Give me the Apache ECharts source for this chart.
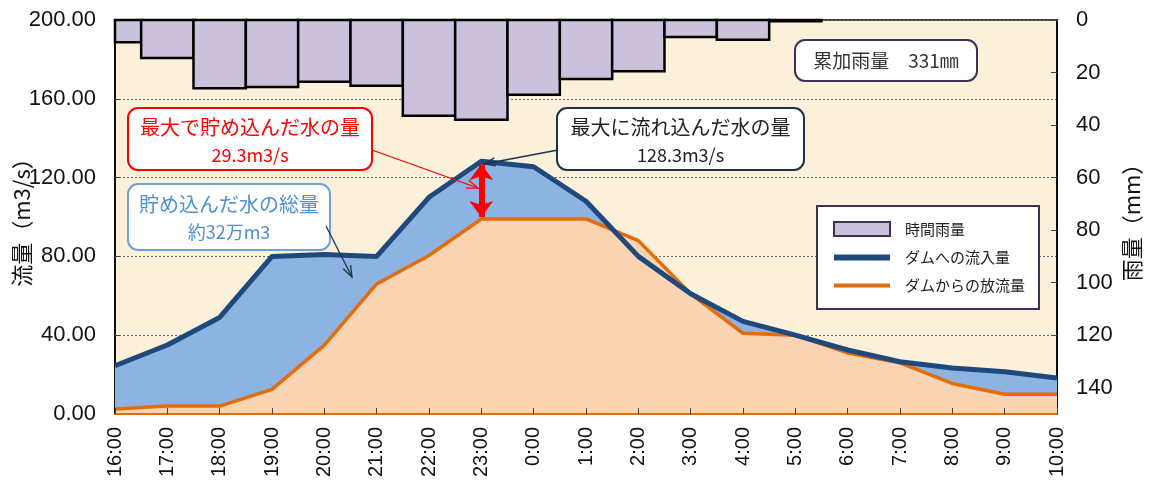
<!DOCTYPE html>
<html>
<head>
<meta charset="utf-8">
<script src="https://cdn.jsdelivr.net/npm/echarts@6/dist/echarts.min.js"></script>
<style>
html,body{margin:0;padding:0;background:#fff;}
#main{width:1152px;height:484px;}
</style>
</head>
<body>
<div id="main"></div>
<script>
//時刻
var hours = ['16:00','17:00','18:00','19:00','20:00','21:00','22:00','23:00','0:00','1:00','2:00','3:00','4:00','5:00','6:00','7:00','8:00','9:00','10:00'];
//時間雨量(mm)
var rain = [8.5,14.5,26,25.5,23.5,25,36.5,38,28.5,22.5,19.5,6.5,7.5,0.5,null,null,null,null,null];
//ダムへの流入量(m3/s)
var inflow = [24.5,35,49,80,81,80,110,128.3,125.5,108,80,61,47,40,32.5,26.5,23.3,21.4,18.3];
//ダムからの放流量(m3/s)
var outflow = [2.5,4,4,12.5,35,66,80.5,99,99,99,88,61,41,40,31,26,15.5,10,10];
var leftTicks = [0,40,80,120,160,200];
var rightTicks = [0,20,40,60,80,100,120,140];

var JP = '"Noto Sans CJK JP", sans-serif';
var NUM = '"Liberation Sans", Arial, sans-serif';

var chart = echarts.init(document.getElementById('main'));

//注釈の箱
function box(x,y,w,h,border,lines){
	var children = [{
		type:'rect',
		z:100,
		shape:{x:0,y:0,width:w,height:h,r:10},
		style:{fill:'#fff',stroke:border,lineWidth:2}
	}];
	lines.forEach(function(l){
		children.push({
			type:'text',
			z:101,
			x:w/2,y:l.y,
			style:{text:l.text,fill:l.color,font:l.font,align:'center',verticalAlign:'middle'}
		});
	});
	return {type:'group',x:x,y:y,children:children};
}
//細い矢印
function arrow(x1,y1,x2,y2,color){
	var a = Math.atan2(y2-y1,x2-x1), s = 12, w = 0.35;
	return {
		type:'group',
		children:[{
			type:'line',
			z:100,
			shape:{x1:x1,y1:y1,x2:x2,y2:y2},
			style:{stroke:color,lineWidth:1.3}
		},{
			type:'polyline',
			z:100,
			shape:{points:[
				[x2-s*Math.cos(a-w),y2-s*Math.sin(a-w)],
				[x2,y2],
				[x2-s*Math.cos(a+w),y2-s*Math.sin(a+w)]
			]},
			style:{stroke:color,lineWidth:1.3,fill:null}
		}]
	};
}

//雨量の棒（グラフ枠で切り取る）
function rainBar(params,api){
	var v = api.value(1);
	if(isNaN(v)) return;
	var top = api.coord([api.value(0),0]);
	var bot = api.coord([api.value(0),v]);
	var w = api.size([1,0])[0];
	var cs = params.coordSys;
	var rect = echarts.graphic.clipRectByRect(
		{x:top[0]-w/2,y:top[1],width:w,height:bot[1]-top[1]},
		{x:cs.x,y:cs.y,width:cs.width,height:cs.height}
	);
	if(!rect) return;
	return {
		type:'rect',
		shape:rect,
		style:{fill:'#ccc1da',stroke:'#000',lineWidth:2.5}
	};
}

chart.setOption({
	animation:false,
	backgroundColor:'#fff',
	grid:{
		left:115,right:95,top:20,bottom:70,
		containLabel:false,
		outerBoundsMode:'none',
		show:true,
		backgroundColor:'#fbf0da',
		borderColor:'#000',
		borderWidth:1.5
	},
	legend:{
		left:817,top:206,
		orient:'vertical',
		backgroundColor:'#fff',
		borderColor:'#403152',
		borderWidth:2,
		padding:[15,14,16,16],
		itemWidth:56,
		itemHeight:14,
		itemGap:13,
		symbolKeepAspect:true,
		textStyle:{fontFamily:JP,fontSize:15,color:'#222',padding:[0,0,0,10]},
		data:[
			{name:'時間雨量',icon:'rect',itemStyle:{color:'#ccc1da',borderColor:'#403152',borderWidth:2}},
			{name:'ダムへの流入量',icon:'path://M0,0H56V6H0Z',itemStyle:{color:'#1f497d'}},
			{name:'ダムからの放流量',icon:'path://M0,0H56V4H0Z',itemStyle:{color:'#e46c0a'}}
		]
	},
	xAxis:{
		type:'category',
		data:hours,
		boundaryGap:false,
		axisLine:{lineStyle:{color:'#e46c0a',width:2}},
		axisTick:{inside:true,length:6,lineStyle:{color:'#444'}},
		axisLabel:{rotate:90,fontFamily:NUM,fontSize:20,color:'#111',margin:13,interval:0},
		splitLine:{show:false},
		z:10
	},
	yAxis:[{
		type:'value',
		min:leftTicks[0],
		max:leftTicks[leftTicks.length-1],
		interval:leftTicks[1]-leftTicks[0],
		name:'流量（m3/s）',
		nameLocation:'middle',
		nameRotate:90,
		nameGap:82,
		nameMoveOverlap:false,
		nameTextStyle:{fontFamily:JP,fontSize:22,color:'#111',backgroundColor:'#fff'},
		axisLine:{show:true,lineStyle:{color:'#000',width:1.5}},
		axisTick:{show:true,inside:true,length:5,lineStyle:{color:'#444'}},
		axisLabel:{fontFamily:NUM,fontSize:22,color:'#111',margin:19,formatter:function(v){return v.toFixed(2)}},
		splitLine:{show:true,lineStyle:{color:'#666',type:[2,2],width:1}}
	},{
		type:'value',
		inverse:true,
		min:rightTicks[0],
		max:150,
		interval:rightTicks[1]-rightTicks[0],
		name:'雨量（mm）',
		nameLocation:'middle',
		nameRotate:90,
		nameGap:64,
		nameMoveOverlap:false,
		nameTextStyle:{fontFamily:JP,fontSize:22,color:'#111'},
		axisLine:{show:true,lineStyle:{color:'#000',width:1.5}},
		axisTick:{show:true,inside:true,length:6,lineStyle:{color:'#444'}},
		axisLabel:{fontFamily:NUM,fontSize:22,color:'#111',margin:19,showMaxLabel:false},
		splitLine:{show:false}
	}],
	series:[{
		name:'流入面',
		type:'line',
		data:inflow,
		symbol:'none',
		lineStyle:{width:0},
		areaStyle:{color:'#8db3e2',opacity:1},
		z:2
	},{
		name:'放流面',
		type:'line',
		data:outflow,
		symbol:'none',
		lineStyle:{width:0},
		areaStyle:{color:'#fbd4b4',opacity:1},
		z:3
	},{
		name:'ダムからの放流量',
		type:'line',
		data:outflow,
		symbol:'none',
		lineStyle:{color:'#e46c0a',width:3.5},
		itemStyle:{color:'#e46c0a'},
		z:4
	},{
		name:'ダムへの流入量',
		type:'line',
		data:inflow,
		symbol:'none',
		lineStyle:{color:'#1f497d',width:5},
		itemStyle:{color:'#1f497d'},
		z:5,
		markLine:{
			silent:true,
			symbol:['arrow','arrow'],
			symbolSize:[18,16],
			label:{show:false},
			lineStyle:{color:'#ff0000',width:6,type:'solid'},
			data:[[{coord:['23:00',inflow[7]-1.5]},{coord:['23:00',outflow[7]+1]}]]
		}
	},{
		name:'時間雨量',
		type:'custom',
		yAxisIndex:1,
		data:rain.map(function(v,i){return [i,v==null?'-':v]}),
		encode:{x:0,y:1},
		renderItem:rainBar,
		itemStyle:{color:'#ccc1da'},
		z:6
	}],
	graphic:[
		box(128,108,244,62,'#ff0000',[
			{text:'最大で貯め込んだ水の量',y:19,color:'#ff0000',font:'20px '+JP},
			{text:'29.3m3/s',y:47,color:'#ff0000',font:'18px '+JP}
		]),
		box(557,108,247,62,'#1f3349',[
			{text:'最大に流れ込んだ水の量',y:19,color:'#222',font:'20px '+JP},
			{text:'128.3m3/s',y:47,color:'#222',font:'18px '+JP}
		]),
		box(128,184,202,66,'#6fa0dc',[
			{text:'貯め込んだ水の総量',y:20,color:'#4f8fd6',font:'20px '+JP},
			{text:'約32万m3',y:48,color:'#4f8fd6',font:'18px '+JP}
		]),
		box(795,40,182,41,'#403152',[
			{text:'累加雨量　331㎜',y:21,color:'#333',font:'19px '+JP}
		]),
		arrow(372,150,478,188,'#ff0000'),
		arrow(558,150,484,164,'#1f3349'),
		arrow(326,226,352,277,'#1f3349')
	]
});
</script>
</body>
</html>
